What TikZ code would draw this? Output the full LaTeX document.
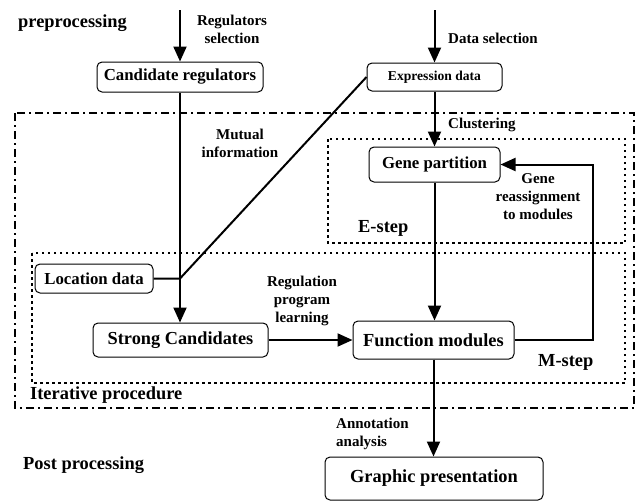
\documentclass[tikz,border=0pt]{standalone}
\usepackage{fontspec}
\setmainfont{Liberation Serif}
\usetikzlibrary{arrows.meta}
\begin{document}
\begin{tikzpicture}[x=1pt,y=-1pt,
  box/.style={draw,line width=1pt,rounded corners=5pt,inner sep=0pt,font=\bfseries},
  lbl/.style={font=\fontsize{15}{18}\selectfont\bfseries,inner sep=0pt,align=center},
  big/.style={font=\fontsize{18.4}{22}\selectfont\bfseries,inner sep=0pt},
  conn/.style={line width=2pt},
  arr/.style={line width=2pt,-{Triangle[length=15pt,width=13pt]}},
  dashdot/.style={line width=2pt,dash pattern=on 8pt off 4pt on 2pt off 4pt},
  dotbox/.style={line width=1.8pt,dash pattern=on 2.5pt off 3.5pt}]
\useasboundingbox (0,0) rectangle (640,501);
% frames
\draw[dashdot] (15,113) rectangle (634,408);
\draw[dotbox] (328,139) rectangle (625,243);
\draw[dotbox] (32,253) rectangle (625,383);
% boxes
\node[box,minimum width=166pt,minimum height=30pt,font=\fontsize{16.8}{20}\selectfont\bfseries] (cr) at (180,77) {Candidate regulators};
\node[box,minimum width=135pt,minimum height=28pt,font=\fontsize{13.6}{16}\selectfont\bfseries] (ed) at (434.5,77) {Expression data};
\node[box,minimum width=131pt,minimum height=35pt,font=\fontsize{16.8}{20}\selectfont\bfseries] (gp) at (434.5,164.5) {Gene partition};
\node[box,minimum width=118pt,minimum height=29pt,font=\fontsize{16.8}{20}\selectfont\bfseries] (loc) at (94,278.5) {Location data};
\node[box,minimum width=175pt,minimum height=34pt,font=\fontsize{18.3}{22}\selectfont\bfseries] (sc) at (180.5,340) {Strong Candidates};
\node[box,minimum width=161pt,minimum height=38pt,font=\fontsize{18.4}{22}\selectfont\bfseries] (fm) at (433.5,340) {Function modules};
\node[box,minimum width=218pt,minimum height=43pt,font=\fontsize{18.4}{22}\selectfont\bfseries] (gr) at (434,478.5) {Graphic presentation};
% coordinates
\coordinate (t1) at (180,10);
\coordinate (t2) at (434.5,10);
\coordinate (j) at (180,278.5);
\coordinate (lp) at (593,340);
% connectors
\draw[arr] (t1) -- (cr.north);
\draw[arr] (t2) -- (ed.north);
\draw[arr] (cr.south) -- (cr.south |- sc.north);
\draw[conn] (loc.east) -- (j) -- (ed.west);
\draw[arr] (ed.south) -- (gp.north);
\draw[arr] (gp.south) -- (gp.south |- fm.north);
\draw[arr] (sc.east) -- (fm.west);
\draw[arr] (fm.east) -- (lp) |- (gp.east);
\draw[arr] (fm.south) -- (fm.south |- gr.north);
% labels
\node[big,anchor=west] (l1) at (18,23) {preprocessing};
\node[lbl] (l2) at (232,29) {Regulators\\selection};
\node[lbl,anchor=west] (l3) at (448,38) {Data selection};
\node[lbl,anchor=west] (l4) at (448,125) {Clustering};
\node[lbl] (l5) at (240,143.5) {Mutual\\information};
\node[lbl] (l6) at (538,196.5) {Gene\\reassignment\\to modules};
\node[big,anchor=west] (l7) at (358,228) {E-step};
\node[lbl] (l8) at (302,301) {Regulation\\program\\learning};
\node[big,anchor=west] (l9) at (538,362) {M-step};
\node[big,anchor=west] (l10) at (30,395) {Iterative procedure};
\node[lbl,align=left,anchor=west] (l11) at (336,434) {Annotation\\analysis};
\node[big,anchor=west] (l12) at (23,465) {Post processing};
\end{tikzpicture}
\end{document}
